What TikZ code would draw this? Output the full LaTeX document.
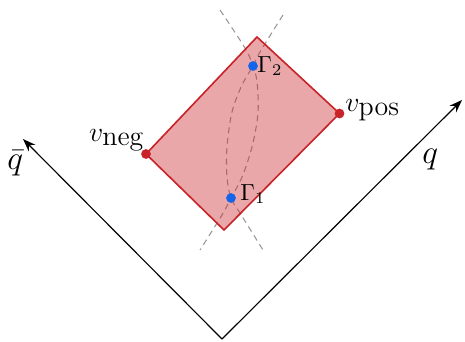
\documentclass[tikz,border=0pt]{standalone}
\usetikzlibrary{arrows.meta}
\definecolor{regred}{RGB}{200,35,40}
\definecolor{ptblue}{RGB}{20,100,235}
\definecolor{lcgray}{RGB}{150,150,150}
\begin{document}
\begin{tikzpicture}[x=0.43pt,y=-0.43pt,
  axis/.style={line width=0.5pt,-{Stealth[length=5.5pt,width=4pt]}},
  lc/.style={lcgray,line width=0.45pt,dash pattern=on 2.6pt off 1.9pt},
  region/.style={draw=regred,line width=0.7pt,fill=regred,fill opacity=0.4,line join=miter},
  rdot/.style={circle,fill=regred,inner sep=0pt,minimum size=4.2pt},
  bdot/.style={circle,fill=ptblue,inner sep=0pt,minimum size=4.2pt},
  lab/.style={inner sep=0pt}]
\useasboundingbox (0,0) rectangle (465,341);
% axes
\coordinate (O) at (222,339);
\coordinate (Qb) at (23,139);
\coordinate (Q) at (462,100);
\draw[axis] (O) -- (Qb);
\draw[axis] (O) -- (Q);
\node[lab,anchor=base west] (qlab) at (422,163) {\Large$q$};
\node[lab,anchor=base west] (qblab) at (7,169) {\Large$\bar q$};
% points
\coordinate (G1) at (231,198);
\coordinate (G2) at (253,66);
% light-cone curves
\draw[lc] plot[smooth,tension=0.55] coordinates {(283,15) (260,52) (G2) (242,85) (232,112) (227,147) (227,177) (G1) (240,213) (263,250)};
\draw[lc] plot[smooth,tension=0.55] coordinates {(220,10) (245,48) (G2) (257,82) (258,113) (252,147) (242,177) (G1) (222,215) (200,250)};
% region
\coordinate (T) at (257,37);
\coordinate (R) at (339.5,113.5);
\coordinate (B) at (224,230);
\coordinate (L) at (146,154);
\draw[region] (T) -- (R) -- (B) -- (L) -- cycle;
\node[rdot] (vn) at (L) {};
\node[rdot] (vp) at (R) {};
\node[bdot] (g1) at (G1) {};
\node[bdot] (g2) at (G2) {};
\node[lab,anchor=base east] (vnlab) at (145,141) {\large$v_{\mbox{neg}}$};
\node[lab,anchor=base west] (vplab) at (345,111) {\large$v_{\mbox{pos}}$};
\node[lab,anchor=base west] (g1lab) at (240,200) {$\Gamma_1$};
\node[lab,anchor=base west] (g2lab) at (257,72) {$\Gamma_2$};
\end{tikzpicture}
\end{document}
